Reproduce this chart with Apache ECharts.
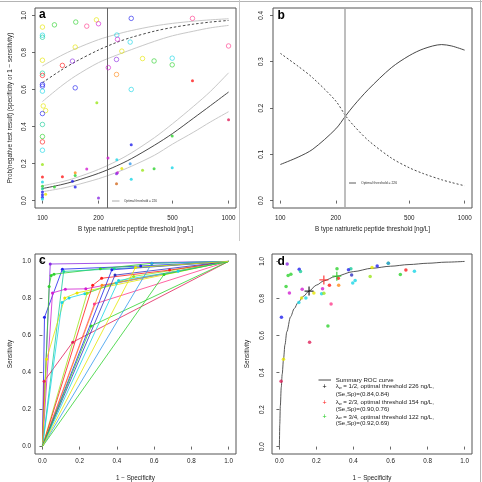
<!DOCTYPE html>
<html>
<head>
<meta charset="utf-8">
<script src="https://cdn.jsdelivr.net/npm/echarts@6/dist/echarts.min.js"></script>
<style>
  html, body { margin: 0; padding: 0; background: #fff; }
  #chart { width: 482px; height: 482px; }
</style>
</head>
<body>
<div id="chart"></div>
<script>
// study colours (rainbow-like palette)
const R = '#ff1a1a', OR = '#ff8c1a', YE = '#e6e600', YG = '#9be61a', GR = '#2ed22e', TE = '#19cc99',
      CY = '#19d6e6', AZ = '#3399ee', BL = '#2020ee', VI = '#8a2be2', MA = '#d21ed2', PK = '#ff3c8c',
      CR = '#e0205a', BR = '#d2691e';

// ---- panel a : observed specificity (open) and 1 - sensitivity (filled) per threshold
const specThr = [100, 100, 100, 100, 100, 100, 100, 100, 100, 101, 104, 100, 100, 100, 100, 100,
                 116, 128, 151, 150, 145, 150, 173, 195, 200, 226, 251, 253, 250, 250, 267, 300,
                 296, 300, 345, 398, 498, 498, 640, 1000];
const specVal = [0.937, 0.893, 0.882, 0.758, 0.688, 0.676, 0.627, 0.618, 0.591, 0.511, 0.486, 0.470,
                 0.411, 0.346, 0.317, 0.272, 0.949, 0.730, 0.964, 0.829, 0.753, 0.609, 0.942, 0.976,
                 0.955, 0.718, 0.894, 0.871, 0.762, 0.681, 0.807, 0.984, 0.856, 0.600, 0.767, 0.754,
                 0.769, 0.733, 0.984, 0.835];
const specCol = [YE, CY, TE, YE, TE, R, BL, BL, CY, YE, YE, BL, TE, GR, R, CY,
                 GR, R, GR, YE, VI, BL, PK, YE, MA, MA, CY, MA, VI, OR, YE, BL,
                 CY, CY, YE, GR, CY, GR, PK, PK];

const fnrThr = [100, 100, 100, 100, 100, 100, 100, 100, 100, 104, 116, 128, 145, 150, 150, 150,
                173, 196, 200, 225, 251, 253, 250, 250, 267, 300, 296, 300, 345, 398, 498, 498, 640, 1000];
const fnrVal = [0.195, 0.128, 0.101, 0.077, 0.064, 0.047, 0.032, 0.018, 0.008, 0.034, 0.074, 0.129,
                0.104, 0.150, 0.136, 0.073, 0.170, 0.529, 0.014, 0.230, 0.221, 0.150, 0.145, 0.091,
                0.173, 0.301, 0.199, 0.115, 0.164, 0.172, 0.349, 0.177, 0.647, 0.437];
const fnrCol = [YG, R, CY, GR, TE, BL, BL, BL, CY, YE, GR, R, BL, OR, GR, BL,
                MA, YG, VI, MA, CY, MA, VI, BR, YE, BL, AZ, CY, YG, GR, GR, CY, R, CR];

// fitted curves with confidence bands
const curveThr = [100, 125, 150, 200, 250, 300, 400, 500, 650, 800, 1000];
const specFit  = [0.637, 0.702, 0.749, 0.813, 0.854, 0.881, 0.915, 0.935, 0.953, 0.964, 0.973];
const specHi   = [0.727, 0.781, 0.819, 0.869, 0.898, 0.918, 0.943, 0.957, 0.969, 0.976, 0.982];
const specLo   = [0.535, 0.615, 0.672, 0.745, 0.785, 0.815, 0.860, 0.890, 0.915, 0.933, 0.946];
const fnrFit   = [0.065, 0.085, 0.106, 0.147, 0.187, 0.226, 0.299, 0.362, 0.446, 0.513, 0.586];
const fnrHi    = [0.080, 0.100, 0.122, 0.168, 0.213, 0.257, 0.340, 0.415, 0.510, 0.590, 0.690];
const fnrLo    = [0.048, 0.065, 0.083, 0.118, 0.152, 0.185, 0.245, 0.305, 0.370, 0.425, 0.480];
const optThr = 226;

// ---- panel b
const bThr    = [100, 125, 150, 200, 226, 250, 300, 400, 500, 600, 750, 850, 1000];
const bSolid  = [0.078, 0.094, 0.111, 0.155, 0.183, 0.205, 0.240, 0.287, 0.313, 0.328, 0.337, 0.334, 0.325];
const bDashed = [0.318, 0.290, 0.265, 0.215, 0.183, 0.162, 0.130, 0.092, 0.071, 0.058, 0.045, 0.039, 0.032];

// ---- panel c / d : per-study (1 - specificity, sensitivity) pairs
const studyFpr = [[0.011, 0.107, 0.528], [0.042], [0.036, 0.047, 0.062, 0.311, 0.588], [0.114, 0.386],
                  [0.054, 0.123, 0.233], [0.279], [0.009, 0.163], [0.022, 0.120, 0.186],
                  [0.105, 0.143, 0.228, 0.396], [0.240, 0.490], [0.270, 0.318, 0.683], [0.320],
                  [0.373], [0.390], [0.409, 0.729], [0.262], [0.653], [0.588], [0.500]];
const studySens = [[0.698, 0.958, 0.975], [0.986], [0.864, 0.924, 0.931, 0.960, 0.990], [0.946, 0.960],
                   [0.830, 0.850, 0.852], [0.770], [0.353, 0.564], [0.472, 0.803, 0.830],
                   [0.778, 0.803, 0.826, 0.884], [0.828, 0.919], [0.871, 0.909, 0.953], [0.871],
                   [0.955], [0.926], [0.897, 0.947], [0.651], [0.929], [0.990], [0.967]];
const studyCol = [BL, VI, GR, TE, MA, PK, CR, YE, CY, YG, R, OR, BL, '#3030c0', CY, GR, GR, AZ, YE];

// summary ROC and optimal points
const srocFpr  = [0, 0.002, 0.005, 0.01, 0.015, 0.022, 0.03, 0.04, 0.06, 0.08, 0.1, 0.13, 0.16, 0.2,
                  0.24, 0.3, 0.4, 0.5, 0.6, 0.7, 0.8, 0.9, 1];
const srocSens = [0, 0.12, 0.22, 0.32, 0.39, 0.47, 0.55, 0.62, 0.70, 0.745, 0.777, 0.812, 0.84, 0.872,
                  0.895, 0.918, 0.945, 0.963, 0.974, 0.983, 0.990, 0.996, 1];
const optFpr  = [0.16, 0.24, 0.31];
const optSens = [0.84, 0.90, 0.92];
const optCol  = ['#000000', '#ff2020', '#22cc22'];
const optText = [['1/2', '226', '(Se,Sp)=(0.84,0.84)'], ['2/3', '154', '(Se,Sp)=(0.90,0.76)'],
                 ['3/4', '122', '(Se,Sp)=(0.92,0.69)']];

const logTicks = [100, 200, 500, 1000];
const unitTicks = [0, 0.2, 0.4, 0.6, 0.8, 1];
const bTicks = [0, 0.1, 0.2, 0.3, 0.4];

const FONT = '"Liberation Sans", Arial, sans-serif';
const FS = 6.3;
const lg = Math.log10;

function xAxis(grid, min, max, ticks, fmt, name, margin, gap) {
  return {
    type: 'value', gridIndex: grid, min: min, max: max,
    axisLine: { show: false },
    axisTick: { show: true, length: 3, customValues: ticks, lineStyle: { color: '#444', width: 0.8 } },
    axisLabel: { customValues: ticks, formatter: fmt, fontSize: FS, color: '#222', fontFamily: FONT, margin: margin },
    splitLine: { show: false },
    name: name, nameLocation: 'middle', nameGap: gap,
    nameTextStyle: { fontSize: FS, color: '#222', fontFamily: FONT }
  };
}
function yAxis(grid, min, max, ticks, rot, name, margin, gap) {
  return {
    type: 'value', gridIndex: grid, min: min, max: max,
    axisLine: { show: false },
    axisTick: { show: true, length: 3, customValues: ticks, lineStyle: { color: '#444', width: 0.8 } },
    axisLabel: { customValues: ticks, formatter: v => v.toFixed(1), rotate: rot, fontSize: FS, color: '#222',
                 fontFamily: FONT, margin: margin },
    splitLine: { show: false },
    name: name, nameLocation: 'middle', nameGap: gap,
    nameTextStyle: { fontSize: FS, color: '#222', fontFamily: FONT }
  };
}
const logFmt = v => String(Math.round(Math.pow(10, v)));
const unitFmt = v => v.toFixed(1);
const gridBox = { show: true, borderColor: '#555', borderWidth: 1, backgroundColor: 'transparent' };

function curve(xi, xs, ys, color, width, type) {
  return {
    type: 'line', xAxisIndex: xi, yAxisIndex: xi, smooth: 0.3, showSymbol: false, silent: true,
    data: xs.map((t, i) => [xi < 2 ? lg(t) : t, ys[i]]),
    lineStyle: { color: color, width: width, type: type || 'solid' }, z: 3
  };
}

const series = [];
// panel a
series.push(curve(0, curveThr, specHi, '#c8c8c8', 1));
series.push(curve(0, curveThr, specLo, '#c8c8c8', 1));
series.push(curve(0, curveThr, fnrHi, '#c8c8c8', 1));
series.push(curve(0, curveThr, fnrLo, '#c8c8c8', 1));
series.push(curve(0, curveThr, specFit, '#333', 0.9, [2.5, 2]));
const fnrLine = curve(0, curveThr, fnrFit, '#333', 0.9);
fnrLine.markLine = {
  symbol: 'none', silent: true, label: { show: false },
  lineStyle: { color: '#666', width: 1, type: 'solid' },
  data: [{ xAxis: lg(optThr) }]
};
series.push(fnrLine);
series.push({
  type: 'scatter', xAxisIndex: 0, yAxisIndex: 0, symbol: 'circle', symbolSize: 4.5, z: 5,
  data: specThr.map((t, i) => ({ value: [lg(t), specVal[i]],
    itemStyle: { color: 'rgba(0,0,0,0)', borderColor: specCol[i], borderWidth: 0.8 } }))
});
series.push({
  type: 'scatter', xAxisIndex: 0, yAxisIndex: 0, symbol: 'circle', symbolSize: 3, z: 5,
  data: fnrThr.map((t, i) => ({ value: [lg(t), fnrVal[i]], itemStyle: { color: fnrCol[i] } }))
});
// panel b
const bSolidLine = curve(1, bThr, bSolid, '#333', 0.9);
bSolidLine.markLine = {
  symbol: 'none', silent: true, label: { show: false },
  lineStyle: { color: '#a8a8a8', width: 1.5, type: 'solid' },
  data: [{ xAxis: lg(optThr) }]
};
series.push(bSolidLine);
series.push(curve(1, bThr, bDashed, '#333', 0.9, [2, 2]));
// panel c
studyFpr.forEach((fx, s) => {
  const pts = [{ value: [0, 0], symbol: 'none' }];
  fx.forEach((x, i) => pts.push({ value: [x, studySens[s][i]] }));
  pts.push({ value: [1, 1], symbol: 'none' });
  series.push({
    type: 'line', xAxisIndex: 2, yAxisIndex: 2, data: pts, symbol: 'circle', symbolSize: 3,
    showSymbol: true, silent: true, lineStyle: { color: studyCol[s], width: 0.8 },
    itemStyle: { color: studyCol[s] }, z: 3
  });
});
// panel d
series.push({
  type: 'line', xAxisIndex: 3, yAxisIndex: 3, smooth: 0.3, smoothMonotone: 'x', showSymbol: false,
  data: srocFpr.map((x, i) => [x, srocSens[i]]), lineStyle: { color: '#444', width: 0.9 }, z: 3
});
const dPts = [];
studyFpr.forEach((fx, s) => fx.forEach((x, i) =>
  dPts.push({ value: [x, studySens[s][i]], itemStyle: { color: studyCol[s] } })));
series.push({ type: 'scatter', xAxisIndex: 3, yAxisIndex: 3, symbol: 'circle', symbolSize: 3.5, data: dPts, z: 4 });
series.push({
  type: 'scatter', xAxisIndex: 3, yAxisIndex: 3, symbol: 'path://M5,0L5,10M0,5L10,5', symbolSize: 9, z: 6,
  data: optFpr.map((x, i) => ({ value: [x, optSens[i]],
    itemStyle: { color: 'rgba(0,0,0,0)', borderColor: optCol[i], borderWidth: 1.3 } }))
});

// graphic: panel letters, legends, frame lines
const graphics = [];
[['a', 39, 15], ['b', 277.5, 15.5], ['c', 39, 260.5], ['d', 277.5, 261.5]].forEach(l => graphics.push({
  type: 'text', x: l[1], y: l[2], style: { text: l[0], font: 'bold 12px ' + FONT, fill: '#000',
  verticalAlign: 'middle', align: 'left' } }));
graphics.push({ type: 'line', shape: { x1: 112, y1: 201, x2: 119.5, y2: 201 }, style: { stroke: '#aaa', lineWidth: 1 } });
graphics.push({ type: 'text', x: 124, y: 201, style: { text: 'Optimal threshold = 226', font: '3.1px ' + FONT,
  fill: '#333', verticalAlign: 'middle' } });
graphics.push({ type: 'line', shape: { x1: 349, y1: 183, x2: 356, y2: 183 }, style: { stroke: '#333', lineWidth: 0.8 } });
graphics.push({ type: 'text', x: 361, y: 183, style: { text: 'Optimal threshold = 226', font: '3.4px ' + FONT,
  fill: '#333', verticalAlign: 'middle' } });
// panel d legend
graphics.push({ type: 'line', shape: { x1: 318.5, y1: 380, x2: 331, y2: 380 }, style: { stroke: '#333', lineWidth: 0.9 } });
graphics.push({ type: 'text', x: 335.7, y: 380, style: { text: 'Summary ROC curve', font: '6.1px ' + FONT,
  fill: '#222', verticalAlign: 'middle' } });
const legY = [[386.7, 394], [402.7, 409.7], [417, 423.7]];
optText.forEach((t, i) => {
  graphics.push({ type: 'text', x: 324.5, y: legY[i][0], style: { text: '+', font: '7px ' + FONT,
    fill: optCol[i], align: 'center', verticalAlign: 'middle' } });
  graphics.push({ type: 'text', x: 335.7, y: legY[i][0], style: {
    text: 'λ{s|w} = ' + t[0] + ', optimal threshold ' + t[1] + ' ng/L,', font: '6.1px ' + FONT,
    fill: '#222', verticalAlign: 'middle', rich: { s: { fontSize: 4, fontFamily: FONT, verticalAlign: 'bottom' } } } });
  graphics.push({ type: 'text', x: 335.7, y: legY[i][1], style: { text: t[2], font: '6.1px ' + FONT,
    fill: '#222', verticalAlign: 'middle' } });
});
graphics.push({ type: 'line', shape: { x1: 0, y1: 1.5, x2: 482, y2: 1.5 }, style: { stroke: '#b4b4b4', lineWidth: 1 } });
graphics.push({ type: 'line', shape: { x1: 480.5, y1: 0, x2: 480.5, y2: 482 }, style: { stroke: '#b4b4b4', lineWidth: 1 } });
graphics.push({ type: 'line', shape: { x1: 239.5, y1: 0, x2: 239.5, y2: 241 }, style: { stroke: '#c8c8c8', lineWidth: 1 } });

const chart = echarts.init(document.getElementById('chart'), null, { renderer: 'canvas' });
chart.setOption({
  animation: false,
  backgroundColor: '#fff',
  grid: [
    Object.assign({ left: 35, top: 8, width: 201, height: 200 }, gridBox),
    Object.assign({ left: 273, top: 8, width: 199, height: 200 }, gridBox),
    Object.assign({ left: 35, top: 254, width: 201, height: 200 }, gridBox),
    Object.assign({ left: 272, top: 254, width: 200, height: 200 }, gridBox)
  ],
  xAxis: [
    xAxis(0, 1.96, 3.04, logTicks.map(lg), logFmt, 'B type natriuretic peptide threshold [ng/L]', 7.5, 18.5),
    xAxis(1, 1.96, 3.04, logTicks.map(lg), logFmt, 'B type natriuretic peptide threshold [ng/L]', 7.5, 18.5),
    xAxis(2, -0.04, 1.04, unitTicks, unitFmt, '1 − Specificity', 4, 21),
    xAxis(3, -0.04, 1.04, unitTicks, unitFmt, '1 − Specificity', 4, 21)
  ],
  yAxis: [
    yAxis(0, -0.04, 1.04, unitTicks, 90, 'Prob(negative test result) (specificity or 1 − sensitivity)', 8, 22),
    yAxis(1, -0.016, 0.416, bTicks, 90, '', 9, 22),
    yAxis(2, -0.04, 1.04, unitTicks, 0, 'Sensitivity', 4, 22),
    yAxis(3, -0.04, 1.04, unitTicks, 90, 'Sensitivity', 7, 22)
  ],
  series: series,
  graphic: graphics
});
</script>
</body>
</html>
